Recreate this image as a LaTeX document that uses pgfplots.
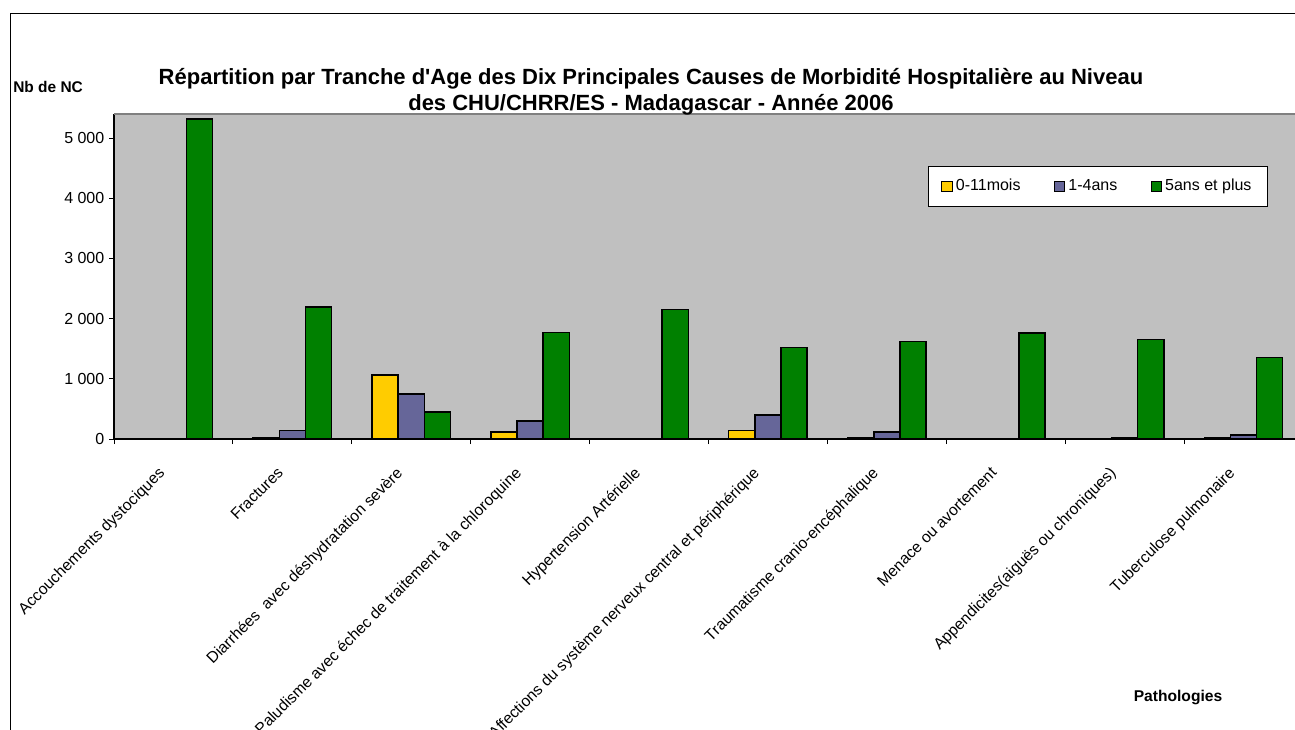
\documentclass[border=0pt]{standalone}
\usepackage{pgfplots}
\pgfplotsset{compat=1.18}
\usepackage{fontspec}
\setmainfont{Liberation Sans}
\definecolor{cyel}{HTML}{FFCC00}
\definecolor{cpur}{HTML}{666699}
\definecolor{cgrn}{HTML}{008000}
\definecolor{cbg}{HTML}{C0C0C0}
\begin{document}
\begin{tikzpicture}[x=0.75pt,y=0.75pt]
\useasboundingbox (0,0) rectangle (1295,729);
% chart border (cropped)
\draw[black,line width=0.75pt] (10,-5) -- (10,715) -- (1300,715);
\begin{axis}[
  at={(85.5pt,217.5pt)}, anchor=south west,
  scale only axis, width=885.75pt, height=243.75pt,
  xmin=-0.5, xmax=9.433, ymin=0, ymax=5400,
  axis background/.style={fill=cbg},
  axis lines*=left,
  axis line style={black, line width=0.8pt},
  ybar=0pt, bar width=19.6pt,
  tick align=outside, major tick length=3.75pt,
  tick style={black, line width=0.6pt},
  ytick={0,1000,2000,3000,4000,5000},
  yticklabels={0,1 000,2 000,3 000,4 000,5 000},
  yticklabel style={font=\fontsize{12}{14}\selectfont, xshift=0pt},
  xtick={-0.5,0.5,...,8.5},
  xticklabels={},
  extra x ticks={0,1,2,3,4,5,6,7,8,9},
  extra x tick labels={Accouchements dystociques, Fractures, Diarrhées~ avec déshydratation sevère, Paludisme avec échec de traitement à la chloroquine, Hypertension Artérielle, Affections du système nerveux central et périphérique, Traumatisme cranio-encéphalique, Menace ou avortement, Appendicites(aiguës ou chroniques), Tuberculose pulmonaire},
  extra x tick style={major tick length=0pt, xticklabel style={xshift=-12pt, yshift=-20pt, rotate=45, anchor=north east, inner sep=0pt, font=\fontsize{11.8}{14}\selectfont}},
  legend style={at={(0.833,0.778)}, anchor=center, draw=black, fill=white, line width=0.6pt,
    font=\fontsize{12}{14}\selectfont, inner xsep=10pt, inner ysep=8pt,
    nodes={text height=1.6ex, text depth=0.3ex},
    /tikz/every even column/.append style={column sep=23pt},
    /tikz/every odd column/.append style={column sep=0.5pt}},
  legend columns=3,
  legend image code/.code={\draw[#1, line width=0.8pt] (0pt,-3.8pt) rectangle (7.6pt,3.8pt);},
  clip=false,
]
\addplot[fill=cyel, draw=black, line width=1.1pt] coordinates {(1,18) (2,1065) (3,120) (5,145) (6,28) (9,25)};
\addplot[fill=cpur, draw=black, line width=1.1pt] coordinates {(1,140) (2,750) (3,300) (5,400) (6,118) (8,15) (9,65)};
\addplot[fill=cgrn, draw=black, line width=1.1pt] coordinates {(0,5320) (1,2195) (2,450) (3,1772) (4,2148) (5,1522) (6,1622) (7,1762) (8,1650) (9,1355)};
\legend{0-11mois, 1-4ans, 5ans et plus}
\draw[gray, line width=0.8pt] (axis description cs:0,1) -- (axis description cs:1.01,1);
\end{axis}
\node[font=\bfseries\fontsize{16.5}{19.5}\selectfont, align=center] at (651,637) {Répartition par Tranche d\textquotesingle Age des Dix Principales Causes de Morbidité Hospitalière au Niveau\\des CHU/CHRR/ES - Madagascar - Année 2006};
\node[font=\bfseries\fontsize{11.6}{13}\selectfont, anchor=west, inner sep=0pt] at (13,642) {Nb de NC};
\node[font=\bfseries\fontsize{11.7}{13}\selectfont, inner sep=0pt] at (1178,32) {Pathologies};
\end{tikzpicture}
\end{document}
